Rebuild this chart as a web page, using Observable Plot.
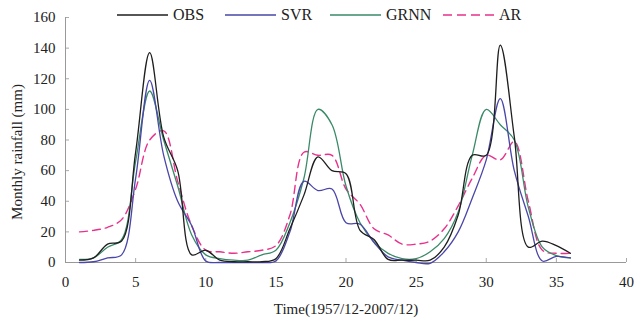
<!DOCTYPE html>
<html>
<head>
<meta charset="utf-8">
<script src="https://cdn.jsdelivr.net/npm/d3@7"></script>
<script src="https://cdn.jsdelivr.net/npm/@observablehq/plot@0.6"></script>
<style>
  html, body { margin: 0; padding: 0; background: #fff; }
  #wrap { position: relative; width: 634px; height: 327px; font-family: "Liberation Serif", "DejaVu Serif", serif; }
  #legend { position: absolute; left: 0; top: 0; width: 634px; height: 30px; }
  .item { position: absolute; top: 5px; display: flex; align-items: center; font-size: 16px; color: #222; }
  .item svg { margin-right: 4px; }
</style>
</head>
<body>
<div id="wrap">
  <div id="chart"></div>
  <div id="legend"></div>
</div>
<script>
const months = d3.range(1, 37);
const obs  = [1.5, 3, 12, 14, 72, 137, 82, 60, 5, 8, 1.5, 0.5, 0.5, 0.5, 2.5, 22, 44, 69, 60, 58, 21, 15, 2, 1.5, 1.5, 1.5, 10, 31, 70, 70, 142, 82, 10, 14, 11, 6];
const svr  = [0, 0.5, 3, 5, 55, 119, 70, 40, 24, 1, 0, 0, 0, 0, 1, 20, 53, 47, 48, 26, 25, 13, 3.7, 1.5, 0, -0.5, 7, 20, 42, 67, 107, 60, 30, 1, 4, 3];
const grnn = [2, 3, 10, 15, 66, 112, 80, 50, 18, 5, 2.5, 1.5, 1.5, 5, 8, 26, 55, 100, 90, 50, 26, 13.5, 6, 2.5, 2.5, 7, 15.6, 33, 70, 100, 90, 80, 36, 10, 4.5, 3];
const ar   = [20, 21, 23, 28, 48, 80, 86, 53, 24, 8, 7, 6, 7, 8, 11, 31, 72, 70, 70, 48, 38, 22, 18, 12, 12, 14, 22, 37, 55, 70, 67, 79, 40, 8, 6, 6];
const seriesNames = ["OBS", "SVR", "GRNN", "AR"];
const seriesColors = ["#1e1e1e", "#4a46a8", "#3a8a68", "#e8318c"];
const xTicks = [0, 5, 10, 15, 20, 25, 30, 35, 40];
const yTicks = [0, 20, 40, 60, 80, 100, 120, 140, 160];

const allSeries = [obs, svr, grnn, ar];
const rows = [];
allSeries.forEach((vals, si) => vals.forEach((v, i) => rows.push({t: months[i], v, s: seriesNames[si]})));

const lineMark = (name, idx, extra = {}) => Plot.line(rows.filter(r => r.s === name), {
  x: "t", y: "v", stroke: seriesColors[idx], strokeWidth: 1.3, curve: "catmull-rom", ...extra
});

const chart = Plot.plot({
  width: 634,
  height: 327,
  marginLeft: 65,
  marginRight: 8,
  marginTop: 17,
  marginBottom: 65,
  style: { fontFamily: "Liberation Serif, serif", fontSize: "15px", color: "#222", background: "transparent" },
  x: { domain: [0, 40], ticks: xTicks },
  y: { domain: [0, 160], ticks: yTicks },
  marks: [
    Plot.axisX({ticks: xTicks, tickSize: 0, tickPadding: 14, label: null, fontSize: 15}),
    Plot.axisY({ticks: yTicks, tickSize: 0, tickPadding: 10, label: null, fontSize: 15}),
    Plot.axisX({ticks: xTicks, tickSize: -4, text: null, label: null, stroke: "#aaa"}),
    Plot.axisY({ticks: yTicks, tickSize: -4, text: null, label: null, stroke: "#aaa"}),
    Plot.ruleY([0], {stroke: "#999"}),
    Plot.ruleX([0], {stroke: "#999"}),
    lineMark("AR", 3, {strokeDasharray: "8,5", strokeWidth: 1.4}),
    lineMark("GRNN", 2),
    lineMark("SVR", 1),
    lineMark("OBS", 0),
    Plot.text(["Time(1957/12-2007/12)"], {frameAnchor: "bottom", dy: 51, fontSize: 15, fill: "#222"}),
    Plot.text(["Monthly rainfall (mm)"], {frameAnchor: "left", dx: -48, dy: 12, rotate: -90, textAnchor: "middle", fontSize: 15, fill: "#222"})
  ]
});
document.getElementById("chart").appendChild(chart);

// legend
const legendPos = [117, 225, 330, 443];
const legend = document.getElementById("legend");
seriesNames.forEach((name, i) => {
  const item = document.createElement("div");
  item.className = "item";
  item.style.left = legendPos[i] + "px";
  const dash = name === "AR" ? 'stroke-dasharray="9,5"' : "";
  item.innerHTML = `<svg width="52" height="20"><line x1="0" y1="10" x2="51" y2="10" stroke="${seriesColors[i]}" stroke-width="1.4" ${dash}/></svg><span>${name}</span>`;
  legend.appendChild(item);
});
</script>
</body>
</html>
